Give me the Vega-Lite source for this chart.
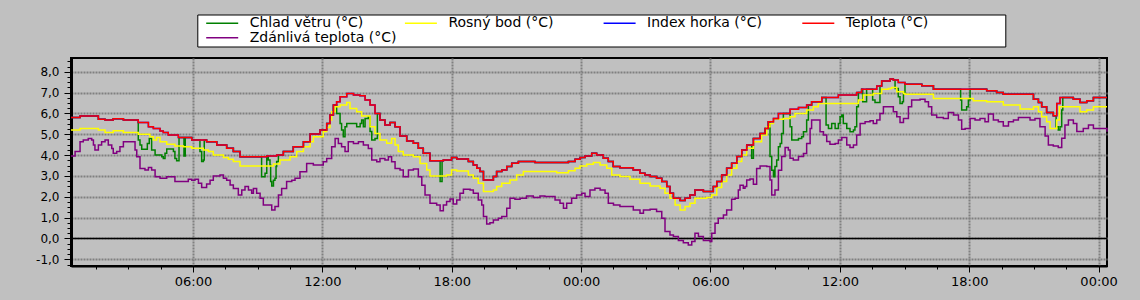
{
  "$schema": "https://vega.github.io/schema/vega-lite/v6.json",
  "width": 1036,
  "height": 208,
  "autosize": {"type": "none"},
  "padding": {"left": 71, "top": 58, "right": 33, "bottom": 34},
  "background": "#C0C0C0",
  "config": {
    "view": {"stroke": "#000000", "strokeWidth": 2},
    "font": "DejaVu Sans"
  },
  "datasets": {
    "teplota": [
      {"h":0.34,"v":5.81},{"h":0.76,"v":5.88},{"h":1.61,"v":5.72},{"h":1.92,"v":5.68},{"h":2.30,"v":5.75},{"h":2.77,"v":5.68},{"h":3.46,"v":5.57},{"h":3.93,"v":5.36},{"h":4.16,"v":5.28},{"h":4.47,"v":5.16},{"h":4.62,"v":5.08},{"h":4.85,"v":4.97},{"h":5.32,"v":4.85},{"h":5.94,"v":4.73},{"h":6.63,"v":4.64},{"h":7.10,"v":4.48},{"h":7.56,"v":4.33},{"h":7.87,"v":4.17},{"h":8.18,"v":3.92},{"h":9.42,"v":3.96},{"h":9.88,"v":4.00},{"h":10.19,"v":4.17},{"h":10.65,"v":4.40},{"h":11.12,"v":4.64},{"h":11.43,"v":5.01},{"h":11.89,"v":5.20},{"h":12.20,"v":5.52},{"h":12.35,"v":5.92},{"h":12.51,"v":6.40},{"h":12.66,"v":6.56},{"h":12.82,"v":6.80},{"h":13.13,"v":6.96},{"h":13.44,"v":6.88},{"h":13.74,"v":6.85},{"h":13.98,"v":6.64},{"h":14.21,"v":6.40},{"h":14.44,"v":6.00},{"h":14.67,"v":5.68},{"h":14.90,"v":5.44},{"h":15.14,"v":5.56},{"h":15.37,"v":5.36},{"h":15.60,"v":4.92},{"h":15.91,"v":4.68},{"h":16.22,"v":4.57},{"h":16.45,"v":4.33},{"h":16.68,"v":4.09},{"h":16.99,"v":3.73},{"h":17.61,"v":3.77},{"h":17.99,"v":3.88},{"h":18.23,"v":3.81},{"h":18.77,"v":3.69},{"h":19.00,"v":3.53},{"h":19.16,"v":3.37},{"h":19.31,"v":3.21},{"h":19.47,"v":2.81},{"h":19.93,"v":2.97},{"h":20.08,"v":3.21},{"h":20.32,"v":3.29},{"h":20.55,"v":3.45},{"h":20.78,"v":3.61},{"h":21.09,"v":3.69},{"h":21.86,"v":3.65},{"h":23.41,"v":3.69},{"h":23.72,"v":3.80},{"h":23.95,"v":3.89},{"h":24.18,"v":3.96},{"h":24.49,"v":4.09},{"h":24.72,"v":4.01},{"h":25.03,"v":3.85},{"h":25.26,"v":3.69},{"h":25.49,"v":3.45},{"h":25.80,"v":3.40},{"h":26.42,"v":3.29},{"h":26.73,"v":3.13},{"h":26.96,"v":3.05},{"h":27.20,"v":2.97},{"h":27.50,"v":2.89},{"h":27.74,"v":2.73},{"h":27.97,"v":2.49},{"h":28.12,"v":2.17},{"h":28.28,"v":1.93},{"h":28.59,"v":1.82},{"h":28.82,"v":1.93},{"h":29.05,"v":2.09},{"h":29.28,"v":2.33},{"h":29.67,"v":2.25},{"h":30.13,"v":2.49},{"h":30.29,"v":2.73},{"h":30.52,"v":3.05},{"h":30.75,"v":3.37},{"h":30.98,"v":3.61},{"h":31.22,"v":3.93},{"h":31.45,"v":4.25},{"h":31.68,"v":4.49},{"h":31.99,"v":4.80},{"h":32.30,"v":5.04},{"h":32.53,"v":5.28},{"h":32.68,"v":5.60},{"h":32.92,"v":5.76},{"h":33.15,"v":6.00},{"h":33.69,"v":6.20},{"h":34.08,"v":6.28},{"h":34.46,"v":6.40},{"h":34.69,"v":6.56},{"h":35.16,"v":6.76},{"h":35.93,"v":6.88},{"h":36.78,"v":7.00},{"h":37.01,"v":7.16},{"h":37.71,"v":7.32},{"h":37.94,"v":7.56},{"h":38.33,"v":7.65},{"h":38.48,"v":7.60},{"h":38.71,"v":7.48},{"h":39.02,"v":7.40},{"h":39.80,"v":7.33},{"h":40.34,"v":7.16},{"h":42.81,"v":7.09},{"h":43.27,"v":7.00},{"h":43.58,"v":6.92},{"h":44.98,"v":6.68},{"h":45.21,"v":6.52},{"h":45.36,"v":6.32},{"h":45.59,"v":6.04},{"h":45.90,"v":5.89},{"h":46.06,"v":6.48},{"h":46.21,"v":6.76},{"h":46.83,"v":6.68},{"h":47.14,"v":6.52},{"h":47.45,"v":6.61},{"h":47.76,"v":6.76},{"h":48.39,"v":6.76}
    ],
    "chlad": [
      {"h":0.34,"v":5.81},{"h":0.76,"v":5.88},{"h":1.61,"v":5.72},{"h":1.92,"v":5.68},{"h":2.30,"v":5.75},{"h":2.77,"v":5.68},{"h":3.46,"v":4.72},{"h":3.54,"v":4.48},{"h":3.62,"v":4.28},{"h":3.88,"v":4.56},{"h":3.97,"v":4.80},{"h":4.08,"v":4.24},{"h":4.24,"v":4.01},{"h":4.55,"v":3.92},{"h":4.62,"v":3.84},{"h":4.70,"v":4.09},{"h":4.78,"v":4.29},{"h":5.09,"v":4.17},{"h":5.16,"v":3.84},{"h":5.24,"v":3.73},{"h":5.35,"v":4.85},{"h":5.58,"v":3.96},{"h":5.64,"v":4.85},{"h":5.94,"v":4.73},{"h":6.32,"v":4.17},{"h":6.40,"v":3.69},{"h":6.48,"v":3.76},{"h":6.52,"v":4.73},{"h":6.63,"v":4.64},{"h":7.10,"v":4.48},{"h":7.56,"v":4.33},{"h":7.87,"v":4.17},{"h":8.18,"v":3.92},{"h":9.18,"v":2.96},{"h":9.34,"v":3.13},{"h":9.42,"v":3.96},{"h":9.49,"v":3.76},{"h":9.57,"v":3.52},{"h":9.60,"v":2.73},{"h":9.65,"v":2.52},{"h":9.73,"v":2.80},{"h":9.80,"v":2.89},{"h":9.85,"v":3.45},{"h":9.88,"v":3.69},{"h":9.96,"v":4.00},{"h":10.19,"v":4.17},{"h":10.65,"v":4.40},{"h":11.12,"v":4.64},{"h":11.43,"v":5.01},{"h":11.89,"v":5.20},{"h":12.20,"v":5.52},{"h":12.35,"v":5.92},{"h":12.51,"v":6.40},{"h":12.66,"v":6.00},{"h":12.82,"v":5.52},{"h":12.89,"v":5.20},{"h":12.97,"v":4.88},{"h":13.05,"v":5.36},{"h":13.13,"v":5.52},{"h":13.59,"v":5.36},{"h":13.75,"v":5.52},{"h":13.82,"v":5.68},{"h":13.90,"v":5.36},{"h":13.98,"v":5.76},{"h":14.13,"v":5.84},{"h":14.21,"v":5.13},{"h":14.29,"v":4.72},{"h":14.44,"v":4.80},{"h":14.55,"v":6.00},{"h":14.67,"v":5.68},{"h":14.90,"v":5.44},{"h":15.14,"v":5.56},{"h":15.37,"v":5.36},{"h":15.60,"v":4.92},{"h":15.91,"v":4.68},{"h":16.22,"v":4.57},{"h":16.45,"v":4.33},{"h":16.68,"v":4.09},{"h":16.99,"v":3.73},{"h":17.46,"v":2.73},{"h":17.55,"v":3.73},{"h":17.61,"v":3.77},{"h":17.99,"v":3.88},{"h":18.23,"v":3.81},{"h":18.77,"v":3.69},{"h":19.00,"v":3.53},{"h":19.16,"v":3.37},{"h":19.31,"v":3.21},{"h":19.47,"v":2.81},{"h":19.93,"v":2.97},{"h":20.08,"v":3.21},{"h":20.32,"v":3.29},{"h":20.55,"v":3.45},{"h":20.78,"v":3.61},{"h":21.09,"v":3.69},{"h":21.86,"v":3.65},{"h":23.41,"v":3.69},{"h":23.72,"v":3.80},{"h":23.95,"v":3.89},{"h":24.18,"v":3.96},{"h":24.49,"v":4.09},{"h":24.72,"v":4.01},{"h":25.03,"v":3.85},{"h":25.26,"v":3.69},{"h":25.49,"v":3.45},{"h":25.80,"v":3.40},{"h":26.42,"v":3.29},{"h":26.73,"v":3.13},{"h":26.96,"v":3.05},{"h":27.20,"v":2.97},{"h":27.50,"v":2.89},{"h":27.74,"v":2.73},{"h":27.97,"v":2.49},{"h":28.12,"v":2.17},{"h":28.28,"v":1.93},{"h":28.59,"v":1.82},{"h":28.82,"v":1.93},{"h":29.05,"v":2.09},{"h":29.28,"v":2.33},{"h":29.67,"v":2.25},{"h":30.13,"v":2.49},{"h":30.29,"v":2.73},{"h":30.52,"v":3.05},{"h":30.75,"v":3.37},{"h":30.98,"v":3.61},{"h":31.22,"v":3.93},{"h":31.45,"v":4.25},{"h":31.68,"v":4.49},{"h":31.91,"v":3.85},{"h":31.99,"v":4.80},{"h":32.30,"v":5.04},{"h":32.53,"v":5.28},{"h":32.68,"v":5.60},{"h":32.76,"v":3.93},{"h":32.84,"v":3.28},{"h":32.92,"v":2.96},{"h":32.99,"v":3.45},{"h":33.07,"v":3.76},{"h":33.15,"v":4.40},{"h":33.23,"v":4.56},{"h":33.30,"v":5.04},{"h":33.38,"v":6.00},{"h":33.69,"v":5.36},{"h":33.77,"v":4.72},{"h":34.08,"v":4.80},{"h":34.23,"v":4.88},{"h":34.31,"v":5.12},{"h":34.46,"v":5.68},{"h":34.54,"v":6.40},{"h":34.69,"v":6.56},{"h":35.16,"v":6.76},{"h":35.36,"v":5.44},{"h":35.47,"v":5.28},{"h":35.62,"v":5.52},{"h":35.78,"v":5.28},{"h":35.93,"v":5.52},{"h":36.01,"v":5.84},{"h":36.09,"v":5.92},{"h":36.16,"v":5.52},{"h":36.32,"v":5.28},{"h":36.47,"v":5.12},{"h":36.63,"v":5.20},{"h":36.70,"v":5.36},{"h":36.78,"v":6.32},{"h":36.86,"v":7.00},{"h":37.01,"v":7.16},{"h":37.06,"v":6.56},{"h":37.24,"v":7.16},{"h":37.52,"v":6.64},{"h":37.63,"v":6.52},{"h":37.86,"v":7.32},{"h":37.94,"v":7.56},{"h":38.33,"v":7.65},{"h":38.48,"v":7.60},{"h":38.56,"v":7.20},{"h":38.71,"v":6.80},{"h":38.79,"v":6.48},{"h":38.90,"v":6.56},{"h":38.95,"v":6.96},{"h":39.02,"v":7.40},{"h":39.80,"v":7.33},{"h":40.34,"v":7.16},{"h":41.60,"v":6.64},{"h":41.65,"v":6.16},{"h":41.88,"v":6.32},{"h":41.96,"v":6.64},{"h":42.04,"v":7.16},{"h":42.81,"v":7.09},{"h":43.27,"v":7.00},{"h":43.58,"v":6.92},{"h":44.98,"v":6.68},{"h":45.21,"v":6.52},{"h":45.36,"v":6.32},{"h":45.59,"v":6.04},{"h":45.90,"v":5.89},{"h":46.03,"v":5.36},{"h":46.13,"v":5.20},{"h":46.21,"v":5.36},{"h":46.29,"v":6.16},{"h":46.34,"v":6.76},{"h":46.83,"v":6.68},{"h":47.14,"v":6.52},{"h":47.45,"v":6.61},{"h":47.76,"v":6.76},{"h":48.39,"v":6.76}
    ],
    "rosny": [
      {"h":0.34,"v":5.20},{"h":0.76,"v":5.28},{"h":1.61,"v":5.20},{"h":1.92,"v":5.09},{"h":2.30,"v":5.17},{"h":2.77,"v":5.09},{"h":3.46,"v":5.00},{"h":4.00,"v":4.88},{"h":4.16,"v":4.72},{"h":4.31,"v":4.85},{"h":4.47,"v":4.64},{"h":4.78,"v":4.52},{"h":5.16,"v":4.44},{"h":5.55,"v":4.40},{"h":5.94,"v":4.33},{"h":6.48,"v":4.24},{"h":6.71,"v":4.17},{"h":6.94,"v":4.01},{"h":7.41,"v":3.89},{"h":7.64,"v":3.80},{"h":7.87,"v":3.69},{"h":8.18,"v":3.48},{"h":9.73,"v":3.57},{"h":10.03,"v":3.76},{"h":10.50,"v":3.92},{"h":10.81,"v":4.17},{"h":11.12,"v":4.40},{"h":11.43,"v":4.64},{"h":11.58,"v":4.88},{"h":12.04,"v":5.13},{"h":12.20,"v":5.33},{"h":12.35,"v":5.68},{"h":12.43,"v":6.08},{"h":12.59,"v":6.32},{"h":12.82,"v":6.40},{"h":13.13,"v":6.52},{"h":13.28,"v":6.24},{"h":13.59,"v":6.08},{"h":13.82,"v":5.88},{"h":14.21,"v":5.36},{"h":14.44,"v":5.04},{"h":14.67,"v":4.72},{"h":14.98,"v":4.57},{"h":15.21,"v":4.80},{"h":15.37,"v":4.48},{"h":15.52,"v":4.17},{"h":15.75,"v":4.01},{"h":16.22,"v":3.92},{"h":16.53,"v":3.60},{"h":16.84,"v":3.29},{"h":16.99,"v":3.00},{"h":17.76,"v":3.05},{"h":17.99,"v":3.29},{"h":18.23,"v":3.24},{"h":18.77,"v":3.05},{"h":19.00,"v":2.89},{"h":19.23,"v":2.65},{"h":19.47,"v":2.25},{"h":19.93,"v":2.33},{"h":20.08,"v":2.49},{"h":20.32,"v":2.65},{"h":20.70,"v":2.81},{"h":21.01,"v":3.05},{"h":21.32,"v":3.21},{"h":22.87,"v":3.16},{"h":23.41,"v":3.25},{"h":23.72,"v":3.37},{"h":23.95,"v":3.48},{"h":24.26,"v":3.56},{"h":24.57,"v":3.65},{"h":24.88,"v":3.53},{"h":25.19,"v":3.37},{"h":25.42,"v":3.05},{"h":25.80,"v":2.97},{"h":26.27,"v":2.84},{"h":26.73,"v":2.65},{"h":27.20,"v":2.52},{"h":27.66,"v":2.41},{"h":27.89,"v":2.17},{"h":28.12,"v":1.93},{"h":28.36,"v":1.61},{"h":28.59,"v":1.37},{"h":28.82,"v":1.53},{"h":29.05,"v":1.69},{"h":29.28,"v":1.93},{"h":29.82,"v":1.97},{"h":30.06,"v":2.09},{"h":30.29,"v":2.45},{"h":30.52,"v":2.73},{"h":30.75,"v":3.05},{"h":30.98,"v":3.37},{"h":31.22,"v":3.69},{"h":31.45,"v":4.01},{"h":31.68,"v":4.33},{"h":31.99,"v":4.64},{"h":32.37,"v":4.96},{"h":32.61,"v":5.36},{"h":32.76,"v":5.52},{"h":32.92,"v":5.72},{"h":33.38,"v":5.76},{"h":33.69,"v":5.84},{"h":33.92,"v":6.00},{"h":34.46,"v":6.16},{"h":34.77,"v":6.32},{"h":35.00,"v":6.48},{"h":36.86,"v":6.64},{"h":37.09,"v":6.88},{"h":37.55,"v":6.96},{"h":37.94,"v":7.16},{"h":38.25,"v":7.20},{"h":38.40,"v":7.25},{"h":38.64,"v":7.04},{"h":38.95,"v":6.96},{"h":39.02,"v":6.92},{"h":40.34,"v":6.72},{"h":42.19,"v":6.61},{"h":42.81,"v":6.56},{"h":43.58,"v":6.40},{"h":44.36,"v":6.21},{"h":44.82,"v":6.20},{"h":44.98,"v":6.32},{"h":45.21,"v":6.08},{"h":45.36,"v":5.84},{"h":45.59,"v":5.60},{"h":45.75,"v":5.28},{"h":46.06,"v":5.68},{"h":46.18,"v":6.32},{"h":47.14,"v":6.08},{"h":47.45,"v":6.16},{"h":47.76,"v":6.32},{"h":48.39,"v":6.32}
    ],
    "zdanliva": [
      {"h":0.34,"v":3.96},{"h":0.53,"v":4.17},{"h":0.76,"v":4.64},{"h":0.91,"v":4.72},{"h":1.14,"v":4.80},{"h":1.30,"v":4.72},{"h":1.38,"v":4.48},{"h":1.45,"v":4.24},{"h":1.61,"v":4.48},{"h":1.76,"v":4.64},{"h":1.92,"v":4.72},{"h":2.07,"v":4.48},{"h":2.23,"v":4.32},{"h":2.30,"v":4.09},{"h":2.46,"v":4.17},{"h":2.61,"v":4.40},{"h":2.77,"v":4.64},{"h":3.15,"v":4.64},{"h":3.31,"v":4.24},{"h":3.39,"v":3.92},{"h":3.54,"v":3.36},{"h":3.77,"v":3.29},{"h":3.93,"v":3.41},{"h":4.08,"v":3.29},{"h":4.24,"v":2.96},{"h":4.47,"v":2.89},{"h":4.78,"v":2.96},{"h":5.16,"v":2.73},{"h":5.78,"v":2.84},{"h":5.94,"v":2.80},{"h":6.09,"v":2.84},{"h":6.25,"v":2.65},{"h":6.40,"v":2.45},{"h":6.63,"v":2.61},{"h":6.79,"v":2.80},{"h":6.94,"v":3.00},{"h":7.25,"v":3.05},{"h":7.41,"v":2.89},{"h":7.56,"v":2.80},{"h":7.72,"v":2.57},{"h":7.87,"v":2.40},{"h":8.10,"v":2.09},{"h":8.26,"v":2.33},{"h":8.41,"v":2.49},{"h":8.57,"v":2.33},{"h":8.72,"v":2.17},{"h":8.80,"v":2.40},{"h":8.95,"v":2.17},{"h":9.11,"v":1.93},{"h":9.26,"v":1.61},{"h":9.65,"v":1.37},{"h":9.80,"v":1.53},{"h":9.96,"v":2.09},{"h":10.11,"v":2.40},{"h":10.34,"v":2.73},{"h":10.58,"v":2.80},{"h":10.73,"v":2.89},{"h":10.96,"v":3.20},{"h":11.27,"v":3.60},{"h":11.58,"v":3.53},{"h":12.04,"v":3.68},{"h":12.20,"v":3.84},{"h":12.43,"v":4.40},{"h":12.59,"v":4.80},{"h":12.74,"v":4.56},{"h":12.89,"v":4.40},{"h":13.05,"v":4.17},{"h":13.20,"v":4.64},{"h":13.44,"v":4.56},{"h":13.67,"v":4.64},{"h":13.90,"v":4.48},{"h":14.13,"v":4.32},{"h":14.29,"v":3.76},{"h":14.52,"v":3.68},{"h":14.67,"v":3.84},{"h":14.90,"v":3.76},{"h":15.06,"v":3.92},{"h":15.21,"v":3.68},{"h":15.37,"v":3.36},{"h":15.60,"v":3.29},{"h":15.75,"v":2.96},{"h":15.99,"v":3.29},{"h":16.22,"v":3.33},{"h":16.45,"v":2.96},{"h":16.61,"v":2.56},{"h":16.76,"v":2.09},{"h":16.99,"v":1.69},{"h":17.30,"v":1.61},{"h":17.46,"v":1.33},{"h":17.61,"v":1.61},{"h":17.76,"v":1.77},{"h":17.92,"v":1.90},{"h":18.07,"v":1.65},{"h":18.23,"v":1.85},{"h":18.38,"v":2.17},{"h":18.54,"v":2.36},{"h":18.85,"v":2.33},{"h":19.00,"v":2.17},{"h":19.23,"v":1.85},{"h":19.39,"v":1.61},{"h":19.47,"v":1.05},{"h":19.62,"v":0.70},{"h":19.77,"v":0.76},{"h":19.93,"v":0.89},{"h":20.16,"v":0.97},{"h":20.32,"v":1.05},{"h":20.55,"v":1.45},{"h":20.70,"v":1.93},{"h":20.93,"v":1.88},{"h":21.17,"v":1.93},{"h":21.47,"v":2.04},{"h":21.78,"v":1.97},{"h":22.09,"v":2.04},{"h":22.32,"v":2.01},{"h":22.79,"v":1.85},{"h":23.02,"v":1.69},{"h":23.18,"v":1.45},{"h":23.33,"v":1.69},{"h":23.56,"v":1.93},{"h":23.79,"v":2.09},{"h":24.03,"v":2.17},{"h":24.18,"v":2.01},{"h":24.41,"v":2.33},{"h":24.64,"v":2.41},{"h":24.88,"v":2.33},{"h":25.11,"v":2.17},{"h":25.26,"v":1.69},{"h":25.50,"v":1.61},{"h":25.80,"v":1.53},{"h":26.42,"v":1.37},{"h":26.73,"v":1.21},{"h":26.89,"v":1.37},{"h":27.20,"v":1.40},{"h":27.50,"v":1.29},{"h":27.74,"v":0.97},{"h":27.89,"v":0.33},{"h":28.12,"v":0.17},{"h":28.28,"v":0.09},{"h":28.51,"v":-0.10},{"h":28.74,"v":-0.20},{"h":28.97,"v":-0.31},{"h":29.13,"v":-0.15},{"h":29.28,"v":0.25},{"h":29.44,"v":0.09},{"h":29.67,"v":-0.10},{"h":29.98,"v":-0.15},{"h":30.06,"v":0.25},{"h":30.21,"v":0.73},{"h":30.36,"v":0.97},{"h":30.60,"v":1.13},{"h":30.75,"v":1.37},{"h":30.98,"v":1.88},{"h":31.14,"v":1.93},{"h":31.29,"v":2.33},{"h":31.37,"v":2.56},{"h":31.52,"v":2.41},{"h":31.60,"v":2.49},{"h":31.68,"v":2.81},{"h":31.83,"v":2.86},{"h":31.99,"v":2.60},{"h":32.14,"v":3.36},{"h":32.30,"v":3.48},{"h":32.61,"v":3.45},{"h":32.76,"v":2.81},{"h":32.84,"v":2.09},{"h":32.99,"v":2.33},{"h":33.15,"v":3.28},{"h":33.30,"v":3.93},{"h":33.46,"v":4.37},{"h":33.61,"v":4.25},{"h":33.69,"v":3.85},{"h":33.84,"v":3.76},{"h":34.08,"v":3.93},{"h":34.31,"v":4.08},{"h":34.46,"v":4.56},{"h":34.62,"v":5.28},{"h":34.69,"v":5.68},{"h":34.93,"v":5.68},{"h":35.08,"v":5.12},{"h":35.24,"v":4.96},{"h":35.39,"v":4.65},{"h":35.54,"v":4.52},{"h":35.78,"v":4.56},{"h":35.93,"v":4.72},{"h":36.09,"v":4.85},{"h":36.32,"v":4.49},{"h":36.47,"v":4.37},{"h":36.63,"v":4.49},{"h":36.78,"v":4.96},{"h":36.94,"v":5.52},{"h":37.17,"v":5.60},{"h":37.40,"v":5.65},{"h":37.55,"v":5.52},{"h":37.71,"v":5.68},{"h":37.86,"v":6.00},{"h":38.02,"v":6.32},{"h":38.48,"v":6.08},{"h":38.64,"v":5.84},{"h":38.79,"v":5.56},{"h":38.95,"v":5.76},{"h":39.18,"v":6.32},{"h":39.33,"v":6.64},{"h":39.72,"v":6.68},{"h":39.95,"v":6.56},{"h":40.11,"v":6.32},{"h":40.26,"v":5.92},{"h":40.49,"v":5.81},{"h":40.80,"v":5.76},{"h":41.03,"v":6.04},{"h":41.27,"v":5.92},{"h":41.50,"v":5.68},{"h":41.65,"v":5.24},{"h":41.81,"v":5.28},{"h":42.04,"v":5.76},{"h":42.27,"v":5.68},{"h":42.50,"v":5.76},{"h":42.73,"v":5.60},{"h":42.89,"v":5.97},{"h":43.12,"v":5.68},{"h":43.35,"v":5.60},{"h":43.58,"v":5.40},{"h":43.82,"v":5.60},{"h":44.05,"v":5.68},{"h":44.28,"v":5.81},{"h":44.82,"v":5.68},{"h":45.05,"v":5.76},{"h":45.28,"v":5.36},{"h":45.52,"v":4.92},{"h":45.67,"v":4.49},{"h":45.90,"v":4.44},{"h":46.13,"v":4.37},{"h":46.29,"v":4.81},{"h":46.44,"v":5.44},{"h":46.60,"v":5.68},{"h":46.83,"v":5.52},{"h":46.99,"v":5.13},{"h":47.29,"v":5.28},{"h":47.53,"v":5.44},{"h":47.76,"v":5.28},{"h":48.22,"v":5.28},{"h":48.39,"v":5.12}
    ]
  },
  "resolve": {"axis": {"x": "independent", "y": "independent"}},
  "layer": [
    {
      "data": {"values": [{}]},
      "mark": {"type": "rule", "color": "#000000", "strokeWidth": 1.5},
      "encoding": {"y": {"datum": 0, "type": "quantitative", "axis": null}}
    },
    {
      "data": {"name": "chlad"},
      "mark": {"type": "line", "interpolate": "step-after", "strokeWidth": 1.5},
      "encoding": {
        "x": {
          "field": "h", "type": "quantitative",
          "scale": {"domain": [0.34, 48.39], "nice": false, "zero": false},
          "axis": {
            "title": null, "orient": "bottom",
            "values": [6,12,18,24,30,36,42,48],
            "labelExpr": "timeFormat(datetime(2000, 0, 1, datum.value, 0), '%H:%M')",
            "labelOverlap": false, "labelFlush": false,
            "labelFont": "DejaVu Sans", "labelFontSize": 13, "labelColor": "#000000",
            "labelPadding": 3,
            "tickColor": "#000000", "tickWidth": 1, "tickSize": 6,
            "domainColor": "#000000", "domainWidth": 2,
            "grid": true, "gridColor": "#808080", "gridWidth": 2, "gridDash": [2, 1]
          }
        },
        "y": {
          "field": "v", "type": "quantitative",
          "scale": {"domain": [-1.32, 8.66], "nice": false, "zero": false},
          "axis": {
            "title": null, "orient": "left",
            "values": [-1,0,1,2,3,4,5,6,7,8],
            "labelExpr": "replace(replace(format(datum.value, '.1f'), '.', ','), '\u2212', '-')",
            "labelOverlap": false, "labelFlush": false,
            "labelFont": "DejaVu Sans", "labelFontSize": 12, "labelColor": "#000000",
            "labelPadding": 5,
            "tickColor": "#000000", "tickWidth": 1, "tickSize": 7,
            "domainColor": "#000000", "domainWidth": 3,
            "grid": true, "gridColor": "#808080", "gridWidth": 2, "gridDash": [2, 1]
          }
        },
        "color": {
          "datum": "Chlad větru (°C)", "type": "nominal",
          "scale": {
            "domain": ["Chlad větru (°C)", "Rosný bod (°C)", "Index horka (°C)", "Teplota (°C)", "Zdánlivá teplota (°C)"],
            "range": ["#008000", "#FFFF00", "#0000FF", "#FF0000", "#800080"]
          },
          "legend": {
            "title": "\u00a0", "titleOrient": "right", "titlePadding": 75, "titleFontSize": 14,
            "orient": "none", "legendX": 126.3, "legendY": -43.5,
            "direction": "horizontal", "columns": 4, "gridAlign": "all",
            "columnPadding": 0.7, "rowPadding": 0.6, "padding": 1.7,
            "fillColor": "#FFFFFF", "strokeColor": "#000000",
            "symbolType": "M-3.2,0H3.2", "symbolSize": 100, "symbolStrokeWidth": 1.5,
            "symbolOffset": 16.2, "labelOffset": 20.5,
            "labelFont": "DejaVu Sans", "labelFontSize": 14, "labelColor": "#000000", "labelLimit": 400
          }
        }
      }
    },
    {
      "data": {"name": "rosny"},
      "mark": {"type": "line", "interpolate": "step-after", "strokeWidth": 1.5},
      "encoding": {
        "x": {"field": "h", "type": "quantitative", "axis": null},
        "y": {"field": "v", "type": "quantitative", "axis": null},
        "color": {"datum": "Rosný bod (°C)", "type": "nominal"}
      }
    },
    {
      "data": {"name": "teplota"},
      "mark": {"type": "line", "interpolate": "step-after", "strokeWidth": 1.5},
      "encoding": {
        "x": {"field": "h", "type": "quantitative", "axis": null},
        "y": {"field": "v", "type": "quantitative", "axis": null},
        "color": {"datum": "Index horka (°C)", "type": "nominal"}
      }
    },
    {
      "data": {"name": "teplota"},
      "mark": {"type": "line", "interpolate": "step-after", "strokeWidth": 1.5},
      "encoding": {
        "x": {"field": "h", "type": "quantitative", "axis": null},
        "y": {"field": "v", "type": "quantitative", "axis": null},
        "color": {"datum": "Teplota (°C)", "type": "nominal"}
      }
    },
    {
      "data": {"name": "zdanliva"},
      "mark": {"type": "line", "interpolate": "step-after", "strokeWidth": 1.5},
      "encoding": {
        "x": {
          "field": "h", "type": "quantitative",
          "axis": {
            "title": null, "orient": "bottom",
            "values": [1.5,3,4.5,7.5,9,10.5,13.5,15,16.5,19.5,21,22.5,25.5,27,28.5,31.5,33,34.5,37.5,39,40.5,43.5,45,46.5],
            "labels": false, "domain": false, "grid": false,
            "tickColor": "#000000", "tickWidth": 1, "tickSize": 3
          }
        },
        "y": {
          "field": "v", "type": "quantitative",
          "axis": {
            "title": null, "orient": "left",
            "values": [-1.25,-0.75,-0.5,-0.25,0.25,0.5,0.75,1.25,1.5,1.75,2.25,2.5,2.75,3.25,3.5,3.75,4.25,4.5,4.75,5.25,5.5,5.75,6.25,6.5,6.75,7.25,7.5,7.75,8.25,8.5],
            "labels": false, "domain": false, "grid": false,
            "tickColor": "#000000", "tickWidth": 1, "tickSize": 4
          }
        },
        "color": {"datum": "Zdánlivá teplota (°C)", "type": "nominal"}
      }
    }
  ]
}
